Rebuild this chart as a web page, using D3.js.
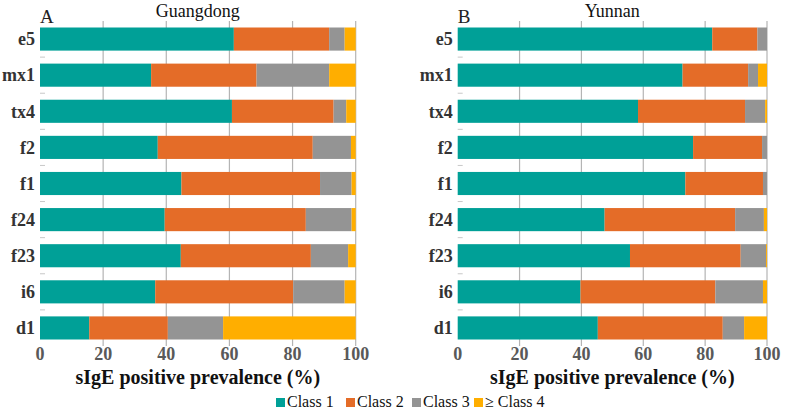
<!DOCTYPE html>
<html>
<head>
<meta charset="utf-8">
<script src="https://cdn.jsdelivr.net/npm/d3@7"></script>
<style>
  body { margin: 0; background: #fff; }
</style>
</head>
<body>
<div id="chart"></div>
<script>
// Allergen categories, top to bottom
const allergens = ['e5', 'mx1', 'tx4', 'f2', 'f1', 'f24', 'f23', 'i6', 'd1'];
const classes = ['Class 1', 'Class 2', 'Class 3', '\u2265 Class 4'];
const xTicks = [0, 20, 40, 60, 80, 100];

// Guangdong (%), per class
const gdClass1 = [61.4, 35.2, 60.8, 37.3, 44.8, 39.5, 44.6, 36.5, 15.6];
const gdClass2 = [30.2, 33.4, 32.2, 49.1, 43.9, 44.7, 41.2, 43.7, 24.9];
const gdClass3 = [4.9, 23.0, 4.0, 12.1, 10.0, 14.5, 11.8, 16.3, 17.5];
const gdClass4 = [3.5, 8.4, 3.0, 1.5, 1.3, 1.3, 2.4, 3.5, 42.0];

// Yunnan (%), per class
const ynClass1 = [82.3, 72.7, 58.3, 76.1, 73.6, 47.5, 55.7, 39.7, 45.3];
const ynClass2 = [14.6, 21.2, 34.6, 22.3, 25.1, 42.2, 35.8, 43.6, 40.4];
const ynClass3 = [3.1, 3.2, 6.5, 1.6, 1.3, 9.3, 8.2, 15.4, 6.9];
const ynClass4 = [0, 2.9, 0.6, 0, 0, 1.0, 0.3, 1.3, 7.4];

const FONT = "'Liberation Serif', 'Times New Roman', 'DejaVu Serif', serif";

const color = d3.scaleOrdinal()
  .domain(classes)
  .range(['#00a097', '#e46c28', '#949494', '#ffae00']);

const width = 787, height = 412;
const svg = d3.select('#chart').append('svg')
  .attr('width', width)
  .attr('height', height)
  .style('display', 'block');

function drawPanel(opts) {
  const { letter, title, x0, x1, series } = opts;
  const top = 21, bottom = 346;

  const rows = allergens.map((a, i) => ({ name: a, vals: series.map(s => s[i]) }));

  const x = d3.scaleLinear().domain([0, 100]).range([x0, x1]);
  const y = d3.scaleBand().domain(allergens).range([top, bottom])
    .paddingInner(0.36).paddingOuter(0.18);

  const g = svg.append('g');

  // Vertical gridlines
  g.selectAll('.grid')
    .data(xTicks.slice(1))
    .join('line')
    .attr('x1', d => x(d))
    .attr('x2', d => x(d))
    .attr('y1', top)
    .attr('y2', bottom)
    .style('stroke', '#b4b4b4')
    .style('stroke-width', 1.2);

  // Small ticks between categories
  const bounds = allergens.slice(1).map(a => y(a) - y.step() * y.paddingInner() / 2);
  g.selectAll('.ytick')
    .data(bounds)
    .join('line')
    .attr('x1', x(0))
    .attr('x2', x(0) + 5)
    .attr('y1', d => d)
    .attr('y2', d => d)
    .style('stroke', '#c8c8c8')
    .style('stroke-width', 1);

  // Stacked bars
  rows.forEach(r => {
    let acc = 0;
    r.vals.forEach((v, k) => {
      if (v > 0) {
        g.append('rect')
          .attr('x', x(acc))
          .attr('y', y(r.name))
          .attr('width', x(acc + v) - x(acc))
          .attr('height', y.bandwidth())
          .attr('fill', color(classes[k]));
      }
      acc += v;
    });
  });

  // x axis labels
  g.selectAll('.xlab')
    .data(xTicks)
    .join('text')
    .attr('x', d => x(d))
    .attr('y', 360)
    .attr('text-anchor', 'middle')
    .attr('font-family', FONT)
    .style('font-size', '18px')
    .style('font-weight', 'bold')
    .style('fill', '#595959')
    .text(d => d);

  // y labels
  g.selectAll('.ylab')
    .data(allergens)
    .join('text')
    .attr('x', x0 - 5)
    .attr('y', d => y(d) + y.bandwidth() / 2)
    .attr('dy', '0.35em')
    .attr('text-anchor', 'end')
    .attr('font-family', FONT)
    .style('font-size', '18px')
    .style('font-weight', 'bold')
    .style('fill', '#333')
    .text(d => d);

  // Axis title
  g.append('text')
    .attr('x', (x0 + x1) / 2)
    .attr('y', 384)
    .attr('text-anchor', 'middle')
    .attr('font-family', FONT)
    .style('font-size', '20px')
    .style('font-weight', 'bold')
    .style('fill', '#111')
    .text('sIgE positive prevalence (%)');

  // Panel letter and title
  g.append('text')
    .attr('x', x0)
    .attr('y', 23)
    .attr('font-family', FONT)
    .style('font-size', '19px')
    .style('fill', '#222')
    .text(letter);

  g.append('text')
    .attr('x', (x0 + x1) / 2)
    .attr('y', 17)
    .attr('text-anchor', 'middle')
    .attr('font-family', FONT)
    .style('font-size', '18px')
    .style('fill', '#111')
    .text(title);
}

drawPanel({
  letter: 'A', title: 'Guangdong', x0: 40, x1: 355.7,
  series: [gdClass1, gdClass2, gdClass3, gdClass4]
});
drawPanel({
  letter: 'B', title: 'Yunnan', x0: 457.7, x1: 767,
  series: [ynClass1, ynClass2, ynClass3, ynClass4]
});

// Legend
const legendX = [276, 346, 412, 474];
const legend = svg.append('g').attr('class', 'legend');
classes.forEach((c, i) => {
  const row = legend.append('g')
    .attr('transform', `translate(${legendX[i]},398)`);
  row.append('rect')
    .attr('width', 9)
    .attr('height', 9)
    .attr('fill', color(c));
  row.append('text')
    .attr('x', 11)
    .attr('y', 9)
    .attr('font-family', FONT)
    .style('font-size', '16px')
    .style('fill', '#111')
    .text(c);
});
</script>
</body>
</html>
